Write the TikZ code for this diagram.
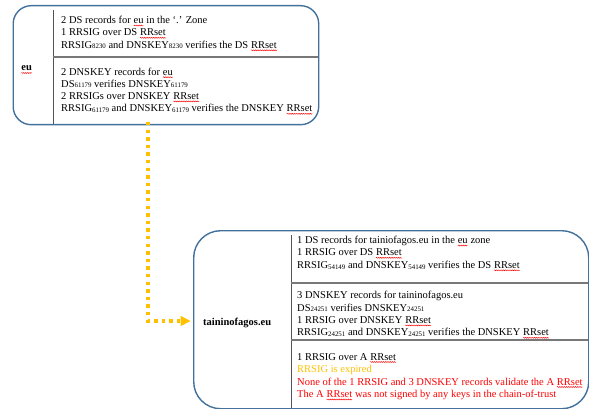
\documentclass[tikz,border=0pt]{standalone}
\usepackage{fontspec}
\setmainfont{Liberation Serif}
\usetikzlibrary{arrows.meta,decorations.pathmorphing}

\definecolor{frameblue}{RGB}{65,113,156}
\definecolor{ruleg}{RGB}{120,120,120}
\definecolor{gold}{RGB}{255,192,0}
\definecolor{errred}{RGB}{255,0,0}

% small lowered key tags
\newcommand\keytag[1]{\raisebox{-0.7pt}{\fontsize{6.9}{6.9}\selectfont #1}}
% red wavy underline under a word
\newcommand\wavy[1]{\tikz[baseline=(w.base)]{%
  \node[inner sep=0pt,outer sep=0pt,anchor=base west,draw=none](w){#1};%
  \draw[errred,line width=0.4pt,decorate,
        decoration={snake,amplitude=0.5pt,segment length=1.8pt}]
    ([yshift=-2pt]w.base west)--([yshift=-2pt]w.base east);}}

\tikzset{
  zone/.style={draw=frameblue,line width=1.4pt,anchor=north west,inner sep=0pt},
  col/.style={draw=ruleg!70!black,line width=0.9pt},
  sep/.style={draw=ruleg,line width=1.1pt},
  ln/.style={anchor=base west,inner sep=0pt,font=\fontsize{10.5}{12}\selectfont},
  zlabel/.style={ln,font=\fontsize{10.5}{12}\selectfont\bfseries},
  flow/.style={draw=gold,line width=3.4pt,dash pattern=on 3.4pt off 4.2pt,
               -{Triangle[length=10pt,width=9.5pt,fill=gold]}},
}

\begin{document}
\begin{tikzpicture}[x=1pt,y=-1pt]
\useasboundingbox (0,0) rectangle (589,409);

% ---- eu zone
\node[zone,rounded corners=18pt,minimum width=305.5pt,minimum height=119pt] (eubox) at (12.5,5) {};
\draw[col] (53,10) -- (53,124);
\draw[sep] (53,57) -- (318,57);
\node[zlabel] (eulab) at (21,71) {\wavy{eu}};

\node[ln] (e1) at (61,23.5) {2 DS records for \wavy{eu} in the `.' Zone};
\node[ln] (e2) at (61,35.8) {1 RRSIG over DS \wavy{RRset}};
\node[ln] (e3) at (61,48.3) {RRSIG\keytag{8230} and DNSKEY\keytag{8230} verifies the DS \wavy{RRset}};

\node[ln] (e4) at (61,75.2) {2 DNSKEY records for \wavy{eu}};
\node[ln] (e5) at (61,87.2) {DS\keytag{61179} verifies DNSKEY\keytag{61179}};
\node[ln] (e6) at (61,99.4) {2 RRSIGs over DNSKEY \wavy{RRset}};
\node[ln] (e7) at (61,111.8) {RRSIG\keytag{61179} and DNSKEY\keytag{61179} verifies the DNSKEY \wavy{RRset}};

% ---- taininofagos.eu zone
\node[zone,rounded corners=27pt,minimum width=395pt,minimum height=178pt] (tbox) at (193,230) {};
\draw[col] (291,235) -- (291,408);
\draw[sep] (291,283) -- (588,283);
\draw[sep] (291,340) -- (588,340);
\node[zlabel] (tlab) at (203,325.5) {taininofagos.eu};

\node[ln] (t1) at (297,243.5) {1 DS records for tainiofagos.eu in the \wavy{eu} zone};
\node[ln] (t2) at (297,255.8) {1 RRSIG over DS \wavy{RRset}};
\node[ln] (t3) at (297,268.3) {RRSIG\keytag{54149} and DNSKEY\keytag{54149} verifies the DS \wavy{RRset}};

\node[ln] (t4) at (297,298.5) {3 DNSKEY records for taininofagos.eu};
\node[ln] (t5) at (297,311) {DS\keytag{24251} verifies DNSKEY\keytag{24251}};
\node[ln] (t6) at (297,323.4) {1 RRSIG over DNSKEY \wavy{RRset}};
\node[ln] (t7) at (297,335.8) {RRSIG\keytag{24251} and DNSKEY\keytag{24251} verifies the DNSKEY \wavy{RRset}};

\node[ln] (t8) at (297,360) {1 RRSIG over A \wavy{RRset}};
\node[ln,text=gold] (t9) at (297,372.3) {RRSIG is expired};
\node[ln,text=errred] (t10) at (297,385) {None of the 1 RRSIG and 3 DNSKEY records validate the A \wavy{RRset}};
\node[ln,text=errred] (t11) at (297,397.5) {The A \wavy{RRset} was not signed by any keys in the chain-of-trust};

% ---- delegation link
\coordinate (linkstart) at (148,124);
\coordinate (linkend) at (193,321);
\draw[flow] ([yshift=2pt]linkstart) |- ([xshift=-2.3pt]linkend);
\end{tikzpicture}
\end{document}
